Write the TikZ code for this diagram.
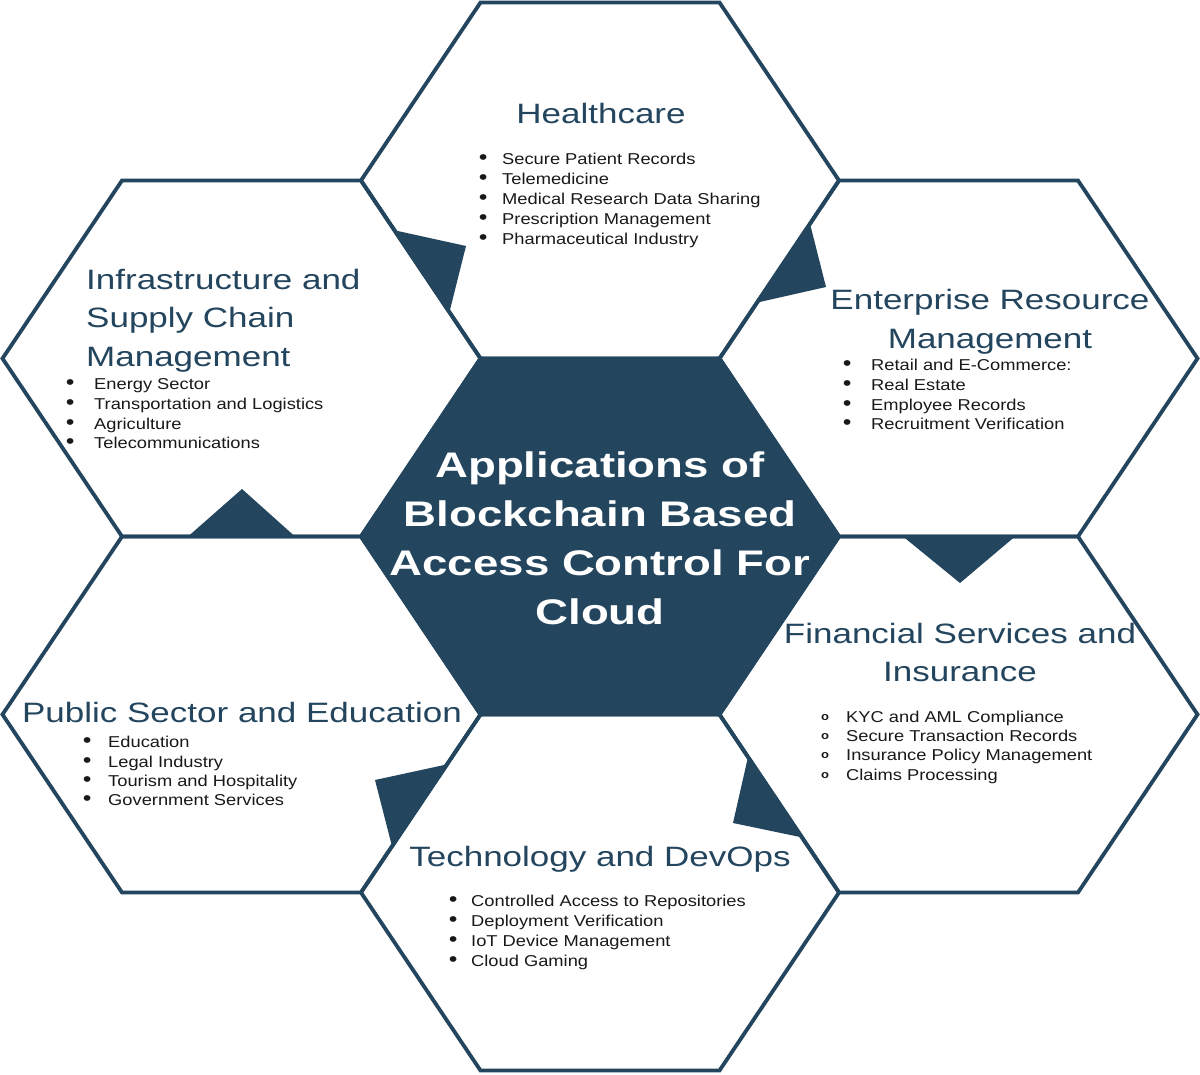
\documentclass[tikz,border=0pt]{standalone}
\usepackage{fontspec}
\setmainfont{Liberation Sans}
\definecolor{hexblue}{RGB}{35,69,94}
\newcommand\bl[2]{\makebox[0pt][c]{\scalebox{1.35}{•}}\hspace{#1pt}#2}
\newcommand\ob[2]{\makebox[0pt][c]{\raisebox{2.2pt}{\fontsize{13}{13}\selectfont\bfseries o}}\hspace{#1pt}#2}
\begin{document}
\begin{tikzpicture}[x=1pt,y=-1pt,
  hexline/.style={draw=hexblue, line width=3.8pt, line join=miter},
  notch/.style={fill=hexblue},
  heading/.style={text=hexblue, font=\fontsize{35}{48}\selectfont, yscale=0.8, transform shape, inner sep=0pt, align=center},
  titletext/.style={text=white, font=\bfseries\fontsize{45.6}{62.8}\selectfont, yscale=0.78, transform shape, inner sep=0pt, align=center},
  item/.style={text=black!90, font=\fontsize{18.3}{22}\selectfont, yscale=0.86, transform shape, inner sep=0pt, anchor=west, text height=13.1pt, text depth=0pt},
]
\fill[white] (0,0) rectangle (1200,1075);
\useasboundingbox (0,0) rectangle (1200,1075);

\coordinate (C) at (600,536.5);
\coordinate (H) at (600,180.5);
\coordinate (E) at (958.5,358.5);
\coordinate (F) at (958.5,714.5);
\coordinate (T) at (600,892.5);
\coordinate (P) at (241.5,714.5);
\coordinate (I) at (241.5,358.5);

\foreach \c in {H,E,F,T,P,I}
  \draw[hexline, shift={(\c)}] (-239,0) -- (-119.5,-178) -- (119.5,-178) -- (239,0) -- (119.5,178) -- (-119.5,178) -- cycle;

\filldraw[hexline, fill=hexblue, shift={(C)}] (-239,0) -- (-119.5,-178) -- (119.5,-178) -- (239,0) -- (119.5,178) -- (-119.5,178) -- cycle;

% notches
\fill[notch] (394.5,230.3) -- (466,246) -- (449.4,312.2) -- cycle;
\fill[notch] (810,223.7) -- (826,287) -- (757,302.6) -- cycle;
\fill[notch] (903,536.5) -- (1015,536.5) -- (960,583) -- cycle;
\fill[notch] (748,757) -- (802,837.4) -- (733,823) -- cycle;
\fill[notch] (447,764.4) -- (392,846.3) -- (375,780) -- cycle;
\fill[notch] (188,536.5) -- (295,536.5) -- (242,489) -- cycle;

% headings
\node[heading, anchor=north] (hHealth) at (601,103) {Healthcare};
\node[heading, anchor=north west, align=left] (hInfra) at (86,269) {Infrastructure and\\Supply Chain\\Management};
\node[heading, anchor=north] (hEnt) at (990,289.5) {Enterprise Resource\\Management};
\node[heading, anchor=north] (hFin) at (960,623) {Financial Services and\\Insurance};
\node[heading, anchor=north] (hTech) at (600,846) {Technology and DevOps};
\node[heading, anchor=north] (hPub) at (242,702) {Public Sector and Education};
\node[titletext, anchor=north] (title) at (600,451.5) {Applications of\\Blockchain Based\\Access Control For\\Cloud};

% Healthcare items
\node[item] (h1) at (483,159) {\bl{19}{Secure Patient Records}};
\node[item] (h2) at (483,179) {\bl{19}{Telemedicine}};
\node[item] (h3) at (483,199) {\bl{19}{Medical Research Data Sharing}};
\node[item] (h4) at (483,219) {\bl{19}{Prescription Management}};
\node[item] (h5) at (483,239) {\bl{19}{Pharmaceutical Industry}};

% Infrastructure items
\node[item] (i1) at (70,384) {\bl{24}{Energy Sector}};
\node[item] (i2) at (70,404) {\bl{24}{Transportation and Logistics}};
\node[item] (i3) at (70,424) {\bl{24}{Agriculture}};
\node[item] (i4) at (70,443) {\bl{24}{Telecommunications}};

% Enterprise items
\node[item] (e1) at (847,365) {\bl{24}{Retail and E-Commerce:}};
\node[item] (e2) at (847,385) {\bl{24}{Real Estate}};
\node[item] (e3) at (847,405) {\bl{24}{Employee Records}};
\node[item] (e4) at (847,424) {\bl{24}{Recruitment Verification}};

% Financial items
\node[item] (f1) at (825,717) {\ob{21}{KYC and AML Compliance}};
\node[item] (f2) at (825,736) {\ob{21}{Secure Transaction Records}};
\node[item] (f3) at (825,755) {\ob{21}{Insurance Policy Management}};
\node[item] (f4) at (825,775) {\ob{21}{Claims Processing}};

% Technology items
\node[item] (t1) at (453,901) {\bl{18}{Controlled Access to Repositories}};
\node[item] (t2) at (453,921) {\bl{18}{Deployment Verification}};
\node[item] (t3) at (453,941) {\bl{18}{IoT Device Management}};
\node[item] (t4) at (453,961) {\bl{18}{Cloud Gaming}};

% Public items
\node[item] (p1) at (87,742) {\bl{21}{Education}};
\node[item] (p2) at (87,762) {\bl{21}{Legal Industry}};
\node[item] (p3) at (87,781) {\bl{21}{Tourism and Hospitality}};
\node[item] (p4) at (87,800) {\bl{21}{Government Services}};
\end{tikzpicture}
\end{document}
